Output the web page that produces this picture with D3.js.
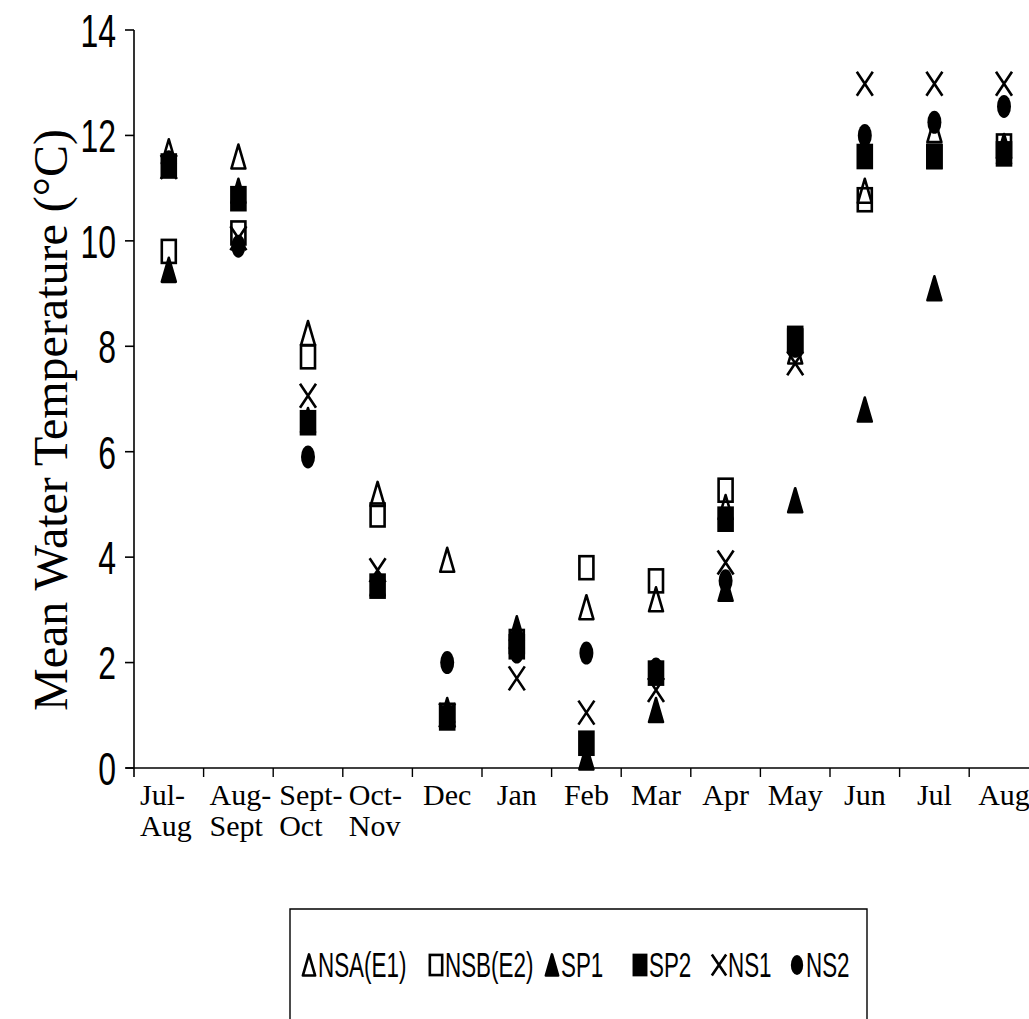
<!DOCTYPE html>
<html>
<head>
<meta charset="utf-8">
<script src="https://cdn.jsdelivr.net/npm/d3@7"></script>
<style>
  body { margin: 0; background: #fff; }
  svg { display: block; }
</style>
</head>
<body>
<div id="chart"></div>
<script>
// categories and the two-line labels under the x axis
const categories = ["Jul-Aug", "Aug-Sept", "Sept-Oct", "Oct-Nov", "Dec", "Jan", "Feb", "Mar", "Apr", "May", "Jun", "Jul", "Aug"];
const catLines = [["Jul-", "Aug"], ["Aug-", "Sept"], ["Sept-", "Oct"], ["Oct-", "Nov"], ["Dec"], ["Jan"], ["Feb"], ["Mar"], ["Apr"], ["May"], ["Jun"], ["Jul"], ["Aug"]];
const yTicks = [0, 2, 4, 6, 8, 10, 12, 14];

// mean water temperature per station (°C)
const nsaE1 = [11.7, 11.6, 8.25, 5.2, 3.95, 2.5, 3.05, 3.2, 4.95, 7.9, 10.95, 12.1, 11.8];
const nsbE2 = [9.8, 10.15, 7.8, 4.8, 1.0, 2.4, 3.8, 3.55, 5.27, 8.1, 10.78, 11.6, 11.8];
const sp1 = [9.45, 10.95, 6.6, 3.5, 1.1, 2.65, 0.2, 1.1, 3.4, 5.08, 6.8, 9.1, 11.7];
const sp2 = [11.42, 10.8, 6.55, 3.45, 0.95, 2.3, 0.47, 1.8, 4.72, 8.15, 11.6, 11.6, 11.65];
const ns1 = [11.4, 10.05, 7.06, 3.75, 1.0, 1.7, 1.05, 1.48, 3.9, 7.68, 12.98, 12.98, 12.98];
const ns2 = [11.5, 9.9, 5.9, 3.5, 2.0, 2.2, 2.18, 1.88, 3.55, 8.0, 12.0, 12.25, 12.55];

const seriesNames = ["NSA(E1)", "NSB(E2)", "SP1", "SP2", "NS1", "NS2"];
const seriesValues = [nsaE1, nsbE2, sp1, sp2, ns1, ns2];
const seriesShapes = ["triOpen", "sqOpen", "triFill", "sqFill", "cross", "dot"];

const width = 1029, height = 1019;
const svg = d3.select("#chart").append("svg")
  .attr("width", width)
  .attr("height", height);

const x = d3.scaleBand().domain(categories).range([134, 134 + 13 * 69.6]).padding(0);
const y = d3.scaleLinear().domain([0, 14]).range([768, 30]);

// marker drawing, shapes are tall and narrow like the scanned figure
function marker(g, shape, k = 1) {
  const w = 7 * k, h = 12 * k;
  if (shape === "triOpen" || shape === "triFill") {
    g.append("path")
      .attr("d", `M0,${-h}L${w},${h}L${-w},${h}Z`)
      .attr("fill", shape === "triFill" ? "#000" : "none")
      .attr("stroke", "#000").attr("stroke-width", 2.6).attr("stroke-linejoin", "round");
  } else if (shape === "sqOpen" || shape === "sqFill") {
    g.append("rect")
      .attr("x", -w).attr("y", -h + 0.5).attr("width", 2 * w).attr("height", 2 * h - 1)
      .attr("fill", shape === "sqFill" ? "#000" : "none")
      .attr("stroke", "#000").attr("stroke-width", 2.6);
  } else if (shape === "cross") {
    g.append("path")
      .attr("d", `M${-w - 1},${-h}L${w + 1},${h}M${w + 1},${-h}L${-w - 1},${h}`)
      .attr("fill", "none").attr("stroke", "#000").attr("stroke-width", 2.6);
  } else {
    g.append("ellipse").attr("rx", w).attr("ry", h - 0.5).attr("fill", "#000");
  }
}

// y axis
const yAxis = svg.append("g");
yAxis.append("line")
  .attr("x1", 134).attr("x2", 134).attr("y1", y(14)).attr("y2", 777)
  .attr("stroke", "#000").attr("stroke-width", 1.6);
yAxis.selectAll(".tick")
  .data(yTicks)
  .join("line")
  .attr("x1", 125).attr("x2", 134)
  .attr("y1", d => y(d)).attr("y2", d => y(d))
  .attr("stroke", "#000").attr("stroke-width", 1.6);
yAxis.selectAll("text")
  .data(yTicks)
  .join("text")
  .attr("transform", d => `translate(116,${y(d)}) scale(0.68,1)`)
  .attr("text-anchor", "end")
  .attr("dy", "0.36em")
  .style("font-family", "'Liberation Sans', Arial, sans-serif")
  .style("font-size", "47px")
  .text(d => d);

svg.append("text")
  .attr("transform", `translate(67,420) rotate(-90)`)
  .attr("text-anchor", "middle")
  .style("font-family", "'Liberation Serif', 'Times New Roman', serif")
  .style("font-size", "48px")
  .text("Mean Water Temperature (°C)");

// x axis
const xAxis = svg.append("g");
xAxis.append("line")
  .attr("x1", 126).attr("x2", width).attr("y1", y(0)).attr("y2", y(0))
  .attr("stroke", "#000").attr("stroke-width", 1.6);
xAxis.selectAll(".tick")
  .data(categories.slice(1))
  .join("line")
  .attr("x1", d => x(d)).attr("x2", d => x(d))
  .attr("y1", y(0)).attr("y2", y(0) + 9)
  .attr("stroke", "#000").attr("stroke-width", 1.4);

const labels = xAxis.selectAll("g.lab")
  .data(categories)
  .join("g")
  .attr("class", "lab")
  .attr("transform", (d, i) => catLines[i].length > 1
    ? `translate(${x(d) + 6},0)`
    : `translate(${x(d) + x.bandwidth() / 2},0)`);
labels.each(function (d, i) {
  const lines = catLines[i];
  d3.select(this).selectAll("text")
    .data(lines)
    .join("text")
    .attr("y", (t, j) => 805 + j * 31)
    .attr("text-anchor", lines.length > 1 ? "start" : "middle")
    .style("font-family", "'Liberation Serif', 'Times New Roman', serif")
    .style("font-size", "30px")
    .text(t => t);
});

// points, later series drawn on top
seriesValues.forEach((vals, s) => {
  svg.append("g")
    .selectAll("g")
    .data(vals)
    .join("g")
    .attr("transform", (v, i) => `translate(${x(categories[i]) + x.bandwidth() / 2},${y(v)})`)
    .each(function () { marker(d3.select(this), seriesShapes[s]); });
});

// legend
const legendX = [309, 436, 552, 640, 719, 797];
const legend = svg.append("g");
legend.append("path")
  .attr("d", "M290,1030V909H867V1030")
  .attr("fill", "none").attr("stroke", "#000").attr("stroke-width", 1.4);
seriesNames.forEach((name, s) => {
  const item = legend.append("g").attr("transform", `translate(${legendX[s]},965)`);
  marker(item, seriesShapes[s], 0.88);
  item.append("text")
    .attr("transform", "translate(9,12) scale(0.64,1)")
    .style("font-family", "'Liberation Sans', Arial, sans-serif")
    .style("font-size", "35px")
    .text(name);
});
</script>
</body>
</html>
